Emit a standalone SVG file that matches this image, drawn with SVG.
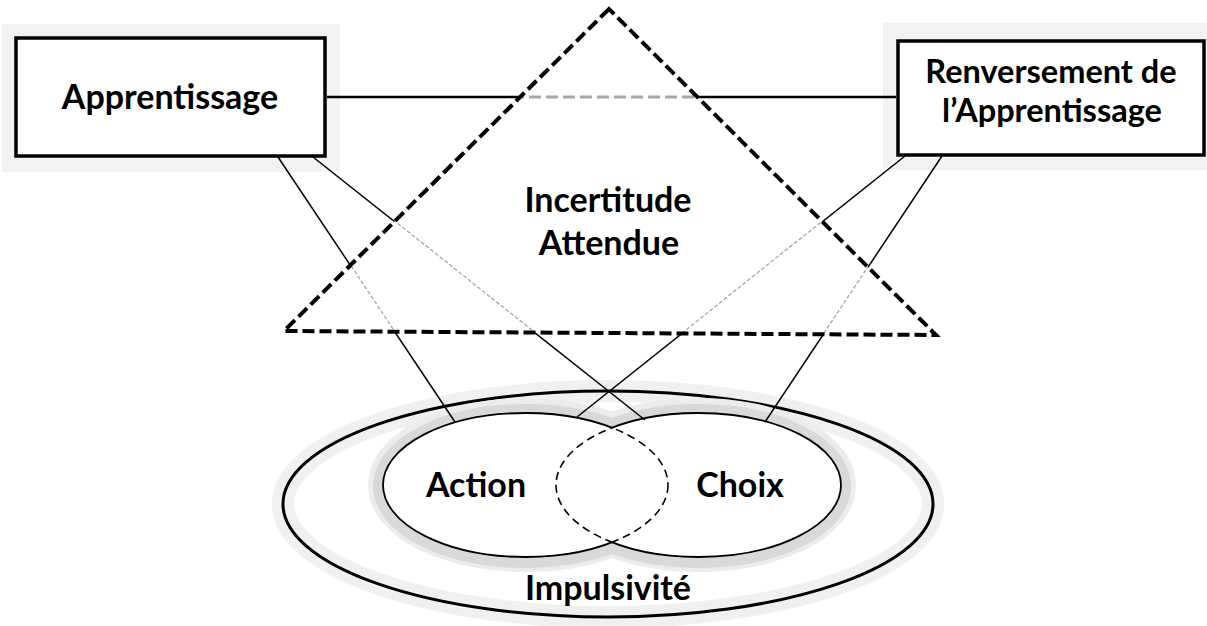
<svg xmlns="http://www.w3.org/2000/svg" width="1207" height="626" viewBox="0 0 1207 626">
<style>
  .lbl { font-family: Lato, "Liberation Sans", sans-serif; font-weight: bold; font-size: 34px; fill: #000; text-anchor: middle; }
  .lbl2 { font-size: 32.5px; }
  .box { fill: #fff; stroke: #000; stroke-width: 3.5; }
  .shadow { fill: #f2f2f2; }
  .link { stroke: #000; stroke-width: 1.5; fill: none; }
  .link-thick { stroke: #000; stroke-width: 2.5; fill: none; }
  .hid { stroke: #a6a6a6; stroke-width: 1.3; stroke-dasharray: 4 2; fill: none; }
  .hid-thick { stroke: #a6a6a6; stroke-width: 3; stroke-dasharray: 12 5; fill: none; }
  .ell { fill: none; stroke: #000; stroke-width: 1.8; }
  .ell-dash { fill: none; stroke: #000; stroke-width: 1.6; stroke-dasharray: 8 5; }
</style>
<defs>
  <clipPath id="inTri"><polygon points="609,9 284,331 936,335"/></clipPath>
  <mask id="outTri" maskUnits="userSpaceOnUse" x="0" y="0" width="1207" height="626">
    <rect x="0" y="0" width="1207" height="626" fill="#fff"/>
    <polygon points="609,9 284,331 936,335" fill="#000"/>
  </mask>
  <clipPath id="inChoix"><ellipse cx="698.5" cy="485" rx="142.5" ry="72"/></clipPath>
  <clipPath id="inAction"><ellipse cx="525.5" cy="485" rx="142.5" ry="72"/></clipPath>
  <mask id="notChoix" maskUnits="userSpaceOnUse" x="0" y="0" width="1207" height="626">
    <rect x="0" y="0" width="1207" height="626" fill="#fff"/>
    <ellipse cx="698.5" cy="485" rx="142.5" ry="72" fill="#000"/>
  </mask>
  <mask id="notAction" maskUnits="userSpaceOnUse" x="0" y="0" width="1207" height="626">
    <rect x="0" y="0" width="1207" height="626" fill="#fff"/>
    <ellipse cx="525.5" cy="485" rx="142.5" ry="72" fill="#000"/>
  </mask>
</defs>
<rect x="0" y="0" width="1207" height="626" fill="#fff"/>

<g id="impulsivite">
  <ellipse cx="608" cy="504" rx="325" ry="113" fill="#fff" stroke="#f0f0f0" stroke-width="22"/>
  <ellipse cx="608" cy="504" rx="325" ry="113" fill="none" stroke="#000" stroke-width="3"/>
  <text class="lbl" x="608" y="600">Impulsivité</text>
</g>

<g id="glow-inner">
  <ellipse cx="525.5" cy="485" rx="142.5" ry="72" fill="none" stroke="#ececec" stroke-width="30"/>
  <ellipse cx="698.5" cy="485" rx="142.5" ry="72" fill="none" stroke="#ececec" stroke-width="30"/>
  <ellipse cx="525.5" cy="486" rx="142.5" ry="72" fill="none" stroke="#d9d9d9" stroke-width="20"/>
  <ellipse cx="698.5" cy="486" rx="142.5" ry="72" fill="none" stroke="#d9d9d9" stroke-width="20"/>
  <ellipse cx="525.5" cy="485" rx="142.5" ry="72" fill="#fff"/>
  <ellipse cx="698.5" cy="485" rx="142.5" ry="72" fill="#fff"/>
</g>

<g id="action">
  <ellipse class="ell" cx="525.5" cy="485" rx="142.5" ry="72" mask="url(#notChoix)"/>
  <ellipse class="ell-dash" cx="525.5" cy="485" rx="142.5" ry="72" clip-path="url(#inChoix)"/>
  <text class="lbl" x="476" y="497">Action</text>
</g>

<g id="choix">
  <ellipse class="ell" cx="698.5" cy="485" rx="142.5" ry="72" mask="url(#notAction)"/>
  <ellipse class="ell-dash" cx="698.5" cy="485" rx="142.5" ry="72" clip-path="url(#inAction)"/>
  <text class="lbl" x="740" y="497">Choix</text>
</g>

<g id="apprentissage">
  <rect class="shadow" x="2" y="24" width="338" height="148"/>
  <rect class="box" x="16" y="38" width="309" height="118"/>
  <text class="lbl" x="170" y="109">Apprentissage</text>
</g>

<g id="renversement">
  <rect class="shadow" x="883" y="23" width="324" height="147"/>
  <rect class="box" x="898" y="41" width="306" height="114"/>
  <text class="lbl lbl2" x="1051" y="83">Renversement de</text>
  <text class="lbl lbl2" x="1052" y="122">l’Apprentissage</text>
</g>

<g id="connectors">
  <g mask="url(#outTri)">
    <line class="link-thick" x1="327" y1="97" x2="896" y2="97"/>
    <line class="link" x1="278" y1="157" x2="455" y2="422"/>
    <line class="link" x1="313" y1="157" x2="645" y2="420"/>
    <line class="link" x1="905" y1="156" x2="577" y2="417"/>
    <line class="link" x1="942" y1="156" x2="765" y2="422"/>
  </g>
  <g clip-path="url(#inTri)">
    <line class="hid-thick" x1="325" y1="97" x2="898" y2="97"/>
    <line class="hid" x1="278" y1="156" x2="455" y2="422"/>
    <line class="hid" x1="313" y1="156" x2="645" y2="420"/>
    <line class="hid" x1="905" y1="155" x2="577" y2="417"/>
    <line class="hid" x1="942" y1="155" x2="765" y2="422"/>
  </g>
</g>

<g id="incertitude">
  <polygon points="609,9 284,331 936,335" fill="none" stroke="#000" stroke-width="4" stroke-dasharray="12 5" stroke-linejoin="miter"/>
  <text class="lbl" x="608" y="212">Incertitude</text>
  <text class="lbl" x="609" y="255">Attendue</text>
</g>
</svg>
